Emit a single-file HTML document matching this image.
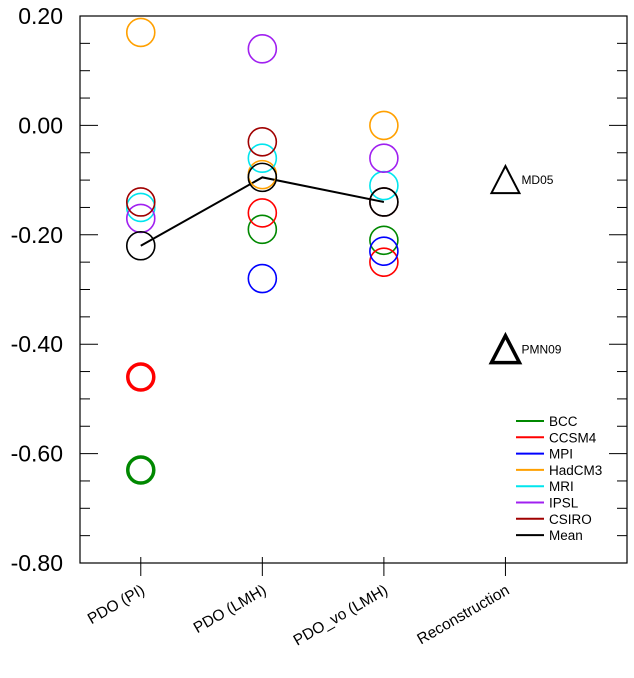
<!DOCTYPE html>
<html><head><meta charset="utf-8"><style>
body{margin:0;background:#fff;}
svg text{font-family:"Liberation Sans",sans-serif;}
</style></head><body>
<svg id="chart" width="634" height="673" xmlns="http://www.w3.org/2000/svg"></svg>
<script>
const categories=["PDO (PI)","PDO (LMH)","PDO_vo (LMH)","Reconstruction"];
const models=["BCC","CCSM4","MPI","HadCM3","MRI","IPSL","CSIRO","Mean"];
const colors=["#008800","#ff0000","#0000ff","#ffa000","#00e5ee","#a020f0","#a00000","#000000"];
const valsPI=[-0.63,-0.46,null,0.17,-0.15,-0.17,-0.14,-0.22];
const valsLMH=[-0.19,-0.16,-0.28,-0.09,-0.06,0.14,-0.03,-0.095];
const valsVO=[-0.21,-0.25,-0.23,0.00,-0.11,-0.06,-0.14,-0.14];
const thickPI=[true,true,false,false,false,false,false,false];
const recNames=["MD05","PMN09"];
const recVals=[-0.10,-0.41];
const yTicks=[0.2,0,-0.2,-0.4,-0.6,-0.8];
const yTickLabels=["0.20","0.00","-0.20","-0.40","-0.60","-0.80"];

const svg=document.getElementById('chart');
const NS="http://www.w3.org/2000/svg";
const L=80,R=627,T=16,B=563;
const yMin=-0.8,yMax=0.2,xMin=-0.5,xMax=4;
function y(v){return B-(v-yMin)/(yMax-yMin)*(B-T);}
function x(i){return L+(i-xMin)/(xMax-xMin)*(R-L);}
function mk(tag,attrs,parent){const e=document.createElementNS(NS,tag);for(const k in attrs)e.setAttribute(k,attrs[k]);(parent||svg).appendChild(e);return e;}

const frame=mk('rect',{x:L,y:T,width:R-L,height:B-T,fill:'none',stroke:'#000','stroke-width':1.2});



for(let v=yMin;v<=yMax+1e-9;v+=0.05){
  const major=Math.abs(Math.round(v*100)%20)<1e-6;
  const len=major?18:10;
  const t1=mk('line',{x1:L,x2:L+len,y1:y(v),y2:y(v),stroke:'#000','stroke-width':1});
  
  
  const t2=mk('line',{x1:R,x2:R-len,y1:y(v),y2:y(v),stroke:'#000','stroke-width':1});
  
  
}
yTicks.forEach((v,i)=>{
  const t=mk('text',{x:63,y:y(v)+8,'text-anchor':'end','font-size':23});
  t.textContent=yTickLabels[i];
  
  
});
categories.forEach((c,i)=>{
  const tk=mk('line',{x1:x(i),x2:x(i),y1:B-6,y2:B+13,stroke:'#000','stroke-width':1});
  
  
  const t=mk('text',{x:x(i)+5,y:B+30,'text-anchor':'end','font-size':15.5,transform:`rotate(-30 ${x(i)+5} ${B+30})`});
  t.textContent=c;
  
  
});
const meanIdx=7;
const pts=[valsPI[meanIdx],valsLMH[meanIdx],valsVO[meanIdx]].map((v,i)=>x(i)+','+y(v)).join(' ');
const ml=mk('polyline',{points:pts,fill:'none',stroke:'#000','stroke-width':2});


[valsPI,valsLMH,valsVO].forEach((arr,ci)=>{
  arr.forEach((v,m)=>{
    if(v===null)return;
    const thick=ci===0&&thickPI[m];
    const c=mk('circle',{cx:x(ci),cy:y(v),r:thick?13:14,fill:'none',stroke:colors[m],'stroke-width':thick?3.5:1.6});
    
    
  });
});
recVals.forEach((v,i)=>{
  const cx=x(3),cy=y(v);
  const tr=mk('polygon',{points:`${cx},${cy-14} ${cx-14},${cy+13} ${cx+14},${cy+13}`,fill:'none',stroke:'#000','stroke-width':i===1?3.5:2});
  
  
  const t=mk('text',{x:cx+16,y:cy+4,'font-size':12});
  t.textContent=recNames[i];
  
  
});
models.forEach((m,i)=>{
  const ly=421+i*16.3;
  const ln=mk('line',{x1:516,x2:544,y1:ly,y2:ly,stroke:colors[i],'stroke-width':2});
  
  
  const t=mk('text',{x:549,y:ly+5,'font-size':13.5});
  t.textContent=m;
  
  
});
</script>
</body></html>
